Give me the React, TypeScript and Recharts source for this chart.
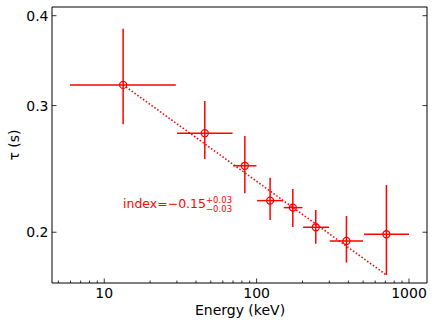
import { ComposedChart, Scatter, XAxis, YAxis, ErrorBar } from "recharts";

const FONT = "'DejaVu Sans', sans-serif";
const RED = "#ff0000";

// measured points (keV, s)
const energy = [13.3, 45.7, 83.7, 122.6, 172.8, 244.5, 388.6, 711];
const energyLo = [5.96, 30, 70.2, 100.7, 150.7, 201.8, 302, 507.6];
const energyHi = [29.5, 69.5, 99.8, 149, 200, 298.8, 499, 1000];
const tau = [0.3205, 0.2746, 0.2474, 0.2213, 0.2164, 0.2032, 0.1945, 0.1987];
const tauLo = [0.2826, 0.2529, 0.2265, 0.208, 0.2033, 0.1927, 0.1815, 0.1744];
const tauHi = [0.3835, 0.3045, 0.2721, 0.2381, 0.2297, 0.2148, 0.2107, 0.2326];

// power-law fit, end points
const fitEnergy = [13.3, 711];
const fitTau = [0.3205, 0.1744];

const xMajor = [10, 100, 1000];
const xMinor = [5, 6, 7, 8, 9, 20, 30, 40, 50, 60, 70, 80, 90, 200, 300, 400, 500, 600, 700, 800, 900];
const yMajor = [0.2, 0.3, 0.4];

const xDomain = [4.54, 1313];
const yDomain = [0.17, 0.4113];

const points = energy.map((e, i) => ({
  e,
  tau: tau[i],
  ex: [e - energyLo[i], energyHi[i] - e],
  ey: [tau[i] - tauLo[i], tauHi[i] - tau[i]],
}));
const fit = fitEnergy.map((e, i) => ({ e, tau: fitTau[i] }));

const W = 436;
const H = 327;

function XTick({ x, y, payload, side }: any) {
  const v = payload.value;
  const major = xMajor.includes(v);
  const len = major ? 4.5 : 2.5;
  const dir = side === "bottom" ? -1 : 1;
  return (
    <g>
      <line x1={x} x2={x} y1={y} y2={y + dir * len} stroke="#000" strokeWidth={0.8} />
      {major && side === "bottom" && (
        <text x={x} y={y + 15} textAnchor="middle" fontFamily={FONT} fontSize={14} fill="#000">
          {v}
        </text>
      )}
    </g>
  );
}

function YTick({ x, y, payload, side }: any) {
  const v = payload.value;
  const dir = side === "left" ? 1 : -1;
  return (
    <g>
      <line x1={x} x2={x + dir * 4.5} y1={y} y2={y} stroke="#000" strokeWidth={0.8} />
      {side === "left" && (
        <text x={x - 3.5} y={y + 5} textAnchor="end" fontFamily={FONT} fontSize={14} fill="#000">
          {v.toFixed(1)}
        </text>
      )}
    </g>
  );
}

const Circle = (p: any) => (
  <circle cx={p.cx} cy={p.cy} r={3.5} fill="none" stroke={RED} strokeWidth={1.3} />
);

export default function App() {
  return (
    <div style={{ position: "relative", width: W, height: H, background: "#fff" }}>
      <style>{"body{margin:0}"}</style>
      <ComposedChart width={W} height={H} margin={{ top: 0, right: 0, bottom: 0, left: 0 }}>
        <XAxis
          xAxisId="b"
          dataKey="e"
          type="number"
          scale="log"
          domain={xDomain}
          allowDataOverflow
          ticks={[...xMinor, ...xMajor]}
          interval={0}
          tickSize={0}
          tickMargin={0}
          tickLine={false}
          height={44}
          axisLine={{ stroke: "#000", strokeWidth: 1 }}
          tick={<XTick side="bottom" />}
        />
        <XAxis
          xAxisId="t"
          orientation="top"
          type="number"
          scale="log"
          domain={xDomain}
          allowDataOverflow
          ticks={[...xMinor, ...xMajor]}
          interval={0}
          tickSize={0}
          tickMargin={0}
          tickLine={false}
          height={7}
          axisLine={{ stroke: "#000", strokeWidth: 1 }}
          tick={<XTick side="top" />}
        />
        <YAxis
          yAxisId="l"
          dataKey="tau"
          type="number"
          scale="log"
          domain={yDomain}
          allowDataOverflow
          ticks={yMajor}
          interval={0}
          tickSize={0}
          tickMargin={0}
          tickLine={false}
          width={52}
          axisLine={{ stroke: "#000", strokeWidth: 1 }}
          tick={<YTick side="left" />}
        />
        <YAxis
          yAxisId="r"
          orientation="right"
          type="number"
          scale="log"
          domain={yDomain}
          allowDataOverflow
          ticks={yMajor}
          interval={0}
          tickSize={0}
          tickMargin={0}
          tickLine={false}
          width={9}
          axisLine={{ stroke: "#000", strokeWidth: 1 }}
          tick={<YTick side="right" />}
        />
        <Scatter
          xAxisId="b"
          yAxisId="l"
          data={fit}
          dataKey="tau"
          line={{ stroke: RED, strokeWidth: 1.6, strokeDasharray: "1.5 2" }}
          shape={() => <g />}
          isAnimationActive={false}
        />
        <Scatter
          xAxisId="b"
          yAxisId="l"
          data={points}
          dataKey="tau"
          shape={Circle}
          isAnimationActive={false}
        >
          <ErrorBar dataKey="ex" direction="x" width={0} stroke={RED} strokeWidth={1.5} isAnimationActive={false} />
          <ErrorBar dataKey="ey" direction="y" width={0} stroke={RED} strokeWidth={1.5} isAnimationActive={false} />
        </Scatter>
      </ComposedChart>
      <svg
        width={W}
        height={H}
        style={{ position: "absolute", left: 0, top: 0, pointerEvents: "none" }}
        fontFamily={FONT}
      >
        <text x={240} y={315} textAnchor="middle" fontSize={14} fill="#000">
          Energy (keV)
        </text>
        <text x={19} y={145} textAnchor="middle" fontSize={14} fill="#000" transform="rotate(-90 19 145)">
          τ (s)
        </text>
        <text x={123} y={207.5} fontSize={12.5} fill={RED}>
          index=−0.15
        </text>
        <text x={206} y={203} fontSize={8.5} fill={RED}>
          +0.03
        </text>
        <text x={206} y={212} fontSize={8.5} fill={RED}>
          −0.03
        </text>
      </svg>
    </div>
  );
}
